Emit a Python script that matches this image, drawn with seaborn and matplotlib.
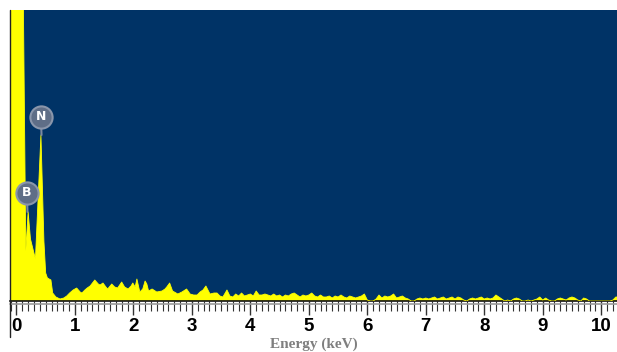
import numpy as np
import pandas as pd
import matplotlib
matplotlib.use("Agg")
import matplotlib.pyplot as plt
import seaborn as sns
from matplotlib.ticker import MultipleLocator
from matplotlib import font_manager

# ---------------- data ----------------
peak_energy = [-0.12, 0.105, 0.12, 0.16, 0.20, 0.24, 0.325, 0.419, 0.45, 0.47,
               0.50, 0.53, 0.59, 0.62, 0.675, 0.745, 0.81, 0.86, 0.91, 0.97,
               1.03, 1.09, 1.12, 1.17, 1.21, 1.26, 1.34, 1.40, 1.43, 1.48,
               1.53, 1.56, 1.63, 1.68, 1.73, 1.80, 1.85, 1.91, 1.96, 1.99,
               2.03, 2.06, 2.11, 2.16, 2.20, 2.23, 2.26, 2.32, 2.40, 2.49,
               2.54, 2.57, 2.62, 2.67, 2.76, 2.83, 2.91, 2.97, 3.03, 3.09,
               3.14, 3.19, 3.24, 3.31, 3.38, 3.43, 3.48, 3.53, 3.60, 3.65,
               3.70]
peak_counts = [400, 400, 290, 50, 89, 62, 42, 166, 100, 60,
               28, 23, 21, 8, 4, 2, 3, 5, 8, 11,
               13, 9, 8, 11, 13, 15, 21, 17, 16, 18,
               14, 12, 17, 14, 13, 19, 14, 12, 15, 18,
               14, 22, 9, 12, 20, 17, 10, 12, 9, 10,
               12, 14, 18, 10, 7, 9, 12, 7, 6, 6,
               9, 11, 15, 7, 8, 8, 5, 4, 11, 5,
               4]

# channels every 0.05 keV from 3.75 to 10.30 keV
tail_energy = list(np.round(np.arange(3.75, 10.301, 0.05), 2))
tail_counts = ([7, 5, 8, 5, 6] +
               [7, 5, 10, 6, 6, 7, 6, 5, 7, 5, 6, 4, 6, 5, 7, 8, 6, 4, 6, 5] +
               [6, 8, 5, 4, 6, 4] +
               [4, 5, 3, 5, 4, 6, 4, 3, 5, 4, 3, 4, 5, 7] +
               [1, 0, 0, 2, 6, 3, 5, 4, 5, 7, 3, 4, 5, 3, 2, 0, 0, 2, 3, 2] +
               [3, 2, 3, 4, 2, 3, 4, 2, 3, 4, 2, 4, 3, 1, 0, 2, 3, 2, 3, 4] +
               [2, 3, 2, 3, 6, 4, 2, 0, 1, 0, 2, 3, 2, 0, 0, 1, 0, 1, 2, 4] +
               [1, 3, 1, 0, 0, 2, 3, 2, 1, 3, 4, 3, 1, 0, 3, 2, 0, 0, 0, 0] +
               [0, 0, 0, 0, 1, 4, 4])

element_labels = ["B", "N"]
element_energy = [0.174, 0.414]
element_label_height = [108, 184]
element_peak_height = [89, 166]

tick_values = list(range(11))
tick_labels = [str(v) for v in tick_values]
x_label = "Energy (keV)"

# ---------------- figure ----------------
sns.set_style("white")
names = {f.name for f in font_manager.fontManager.ttflist}
tick_font = "Liberation Sans Narrow" if "Liberation Sans Narrow" in names else "Liberation Sans"
plt.rcParams["font.family"] = ["DejaVu Sans"]

df = pd.DataFrame({"energy": peak_energy + tail_energy,
                   "counts": peak_counts + tail_counts})

fig = plt.figure(figsize=(6.17, 3.52), dpi=100)
fig.patch.set_facecolor("white")
ax = fig.add_axes([10 / 617, 51 / 352, 607 / 617, 291 / 352])
ax.set_facecolor("#003366")

yellow = "#ffff00"
ax.fill_between(df["energy"], 0, df["counts"], color=yellow, lw=0, zorder=2)
sns.lineplot(data=df, x="energy", y="counts", ax=ax, color=yellow, lw=0.6,
             zorder=3, estimator=None)

ax.set_xlim(-0.11, 10.27)
ax.set_ylim(0, 291)
ax.set_yticks([])
ax.set_ylabel("")
ax.set_xlabel("")
ax.set_xticks(tick_values)
ax.set_xticklabels(tick_labels, fontfamily=tick_font, fontweight="bold",
                   fontsize=13.5, color="black")
ax.xaxis.set_minor_locator(MultipleLocator(0.1))
ax.tick_params(axis="x", which="major", bottom=True, direction="out",
               length=10, width=1.0, color="#333333", pad=2.5)
ax.tick_params(axis="x", which="minor", bottom=True, direction="out",
               length=7, width=0.8, color="#333333")

for s in ["top", "right"]:
    ax.spines[s].set_visible(False)
ax.spines["left"].set_visible(False)
ax.spines["bottom"].set_color("#111111")
ax.spines["bottom"].set_linewidth(1.2)
# second grey rule under the axis and left frame line extending downward
ax.plot([0, 1], [-3 / 291, -3 / 291], transform=ax.transAxes, clip_on=False,
        color="#9a9a9a", lw=1.2, zorder=5)
ax.plot([0, 0], [-0.124, 1], transform=ax.transAxes, clip_on=False,
        color="#222222", lw=1.0, zorder=5)

# element markers
for lab, ex, ly, py in zip(element_labels, element_energy,
                           element_label_height, element_peak_height):
    ax.plot([ex + 0.01, ex + 0.015], [ly - 10, py], color="#7d8aa0", lw=1.5, zorder=4)
    ax.plot([ex], [ly], marker="o", ms=16, mfc="#5f6e87", mec="#8a96ab",
            mew=1.5, zorder=6)
    ax.text(ex, ly, lab, ha="center", va="center", color="white",
            fontsize=9, fontweight="bold", zorder=7)

fig.text(313.5 / 617, 1 - 344 / 352, x_label, ha="center", va="center",
         family="Liberation Serif", fontweight="bold", fontsize=11,
         color="#7f7f7f")

fig.savefig("out.png", dpi=100, facecolor="white")
